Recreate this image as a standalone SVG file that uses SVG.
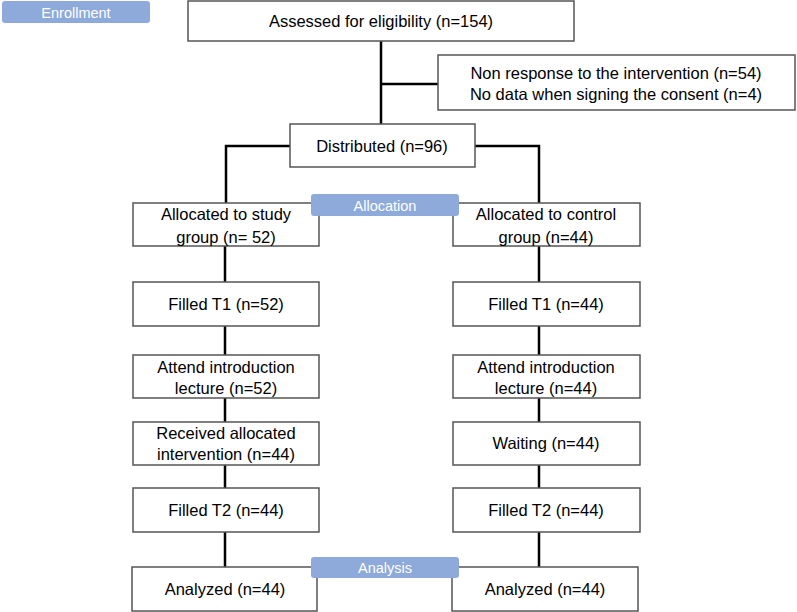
<svg xmlns="http://www.w3.org/2000/svg" width="797" height="612" viewBox="0 0 797 612">
<style>
.box{fill:#fff;stroke:#555;stroke-width:1.5}
.lbl{fill:#8eaadb;stroke:none}
.t{font-family:"Liberation Sans",Arial,sans-serif;font-size:16.5px;fill:#000;text-anchor:middle}
.lt{font-family:"Liberation Sans",Arial,sans-serif;font-size:14.5px;fill:#fff;text-anchor:middle}
.c{fill:none;stroke:#000;stroke-width:2.5}
</style>
<rect width="797" height="612" fill="#fff"/>
<g id="connectors">
<path class="c" d="M381 41V124"/>
<path class="c" d="M381 84H438"/>
<path class="c" d="M290 146H226V203"/>
<path class="c" d="M475 146H539V203"/>
<path class="c" d="M225 246V282M225 326V355M225 398V422M225 465V488M225 532V567"/>
<path class="c" d="M539 246V282M539 326V355M539 398V422M539 465V488M539 532V567"/>
</g>
<g id="enrollment"><rect class="lbl" x="2" y="1" width="148" height="22" rx="3"/><text class="lt" x="76" y="18">Enrollment</text></g>
<g id="assessed"><rect class="box" x="188" y="1" width="386" height="40"/><text class="t" x="381" y="27">Assessed for eligibility (n=154)</text></g>
<g id="excluded"><rect class="box" x="438" y="55" width="357" height="55"/><text class="t" x="616" y="79">Non response to the intervention (n=54)</text><text class="t" x="616" y="100">No data when signing the consent (n=4)</text></g>
<g id="distributed"><rect class="box" x="290" y="124" width="185" height="43"/><text class="t" x="382" y="152">Distributed (n=96)</text></g>
<g id="alloc-study"><rect class="box" x="133" y="203" width="186" height="43"/><text class="t" x="226" y="220">Allocated to study</text><text class="t" x="226" y="243">group (n= 52)</text></g>
<g id="alloc-control"><rect class="box" x="453" y="203" width="187" height="43"/><text class="t" x="546" y="220">Allocated to control</text><text class="t" x="546" y="243">group (n=44)</text></g>
<g id="allocation"><rect class="lbl" x="311" y="194" width="148" height="22" rx="3"/><text class="lt" x="385" y="211">Allocation</text></g>
<g id="t1-study"><rect class="box" x="133" y="282" width="186" height="44"/><text class="t" x="226" y="310">Filled T1 (n=52)</text></g>
<g id="t1-control"><rect class="box" x="453" y="282" width="187" height="44"/><text class="t" x="546" y="310">Filled T1 (n=44)</text></g>
<g id="lecture-study"><rect class="box" x="133" y="355" width="186" height="43"/><text class="t" x="226" y="373">Attend introduction</text><text class="t" x="226" y="394">lecture (n=52)</text></g>
<g id="lecture-control"><rect class="box" x="453" y="355" width="187" height="43"/><text class="t" x="546" y="373">Attend introduction</text><text class="t" x="546" y="394">lecture (n=44)</text></g>
<g id="received"><rect class="box" x="133" y="422" width="186" height="43"/><text class="t" x="226" y="439">Received allocated</text><text class="t" x="226" y="460">intervention (n=44)</text></g>
<g id="waiting"><rect class="box" x="453" y="422" width="187" height="43"/><text class="t" x="546" y="449">Waiting (n=44)</text></g>
<g id="t2-study"><rect class="box" x="133" y="488" width="186" height="44"/><text class="t" x="226" y="516">Filled T2 (n=44)</text></g>
<g id="t2-control"><rect class="box" x="453" y="488" width="187" height="44"/><text class="t" x="546" y="516">Filled T2 (n=44)</text></g>
<g id="analyzed-study"><rect class="box" x="132" y="567" width="185" height="44"/><text class="t" x="225" y="595">Analyzed (n=44)</text></g>
<g id="analyzed-control"><rect class="box" x="452" y="567" width="186" height="44"/><text class="t" x="545" y="595">Analyzed (n=44)</text></g>
<g id="analysis"><rect class="lbl" x="311" y="557" width="148" height="21" rx="3"/><text class="lt" x="385" y="573">Analysis</text></g>
</svg>
